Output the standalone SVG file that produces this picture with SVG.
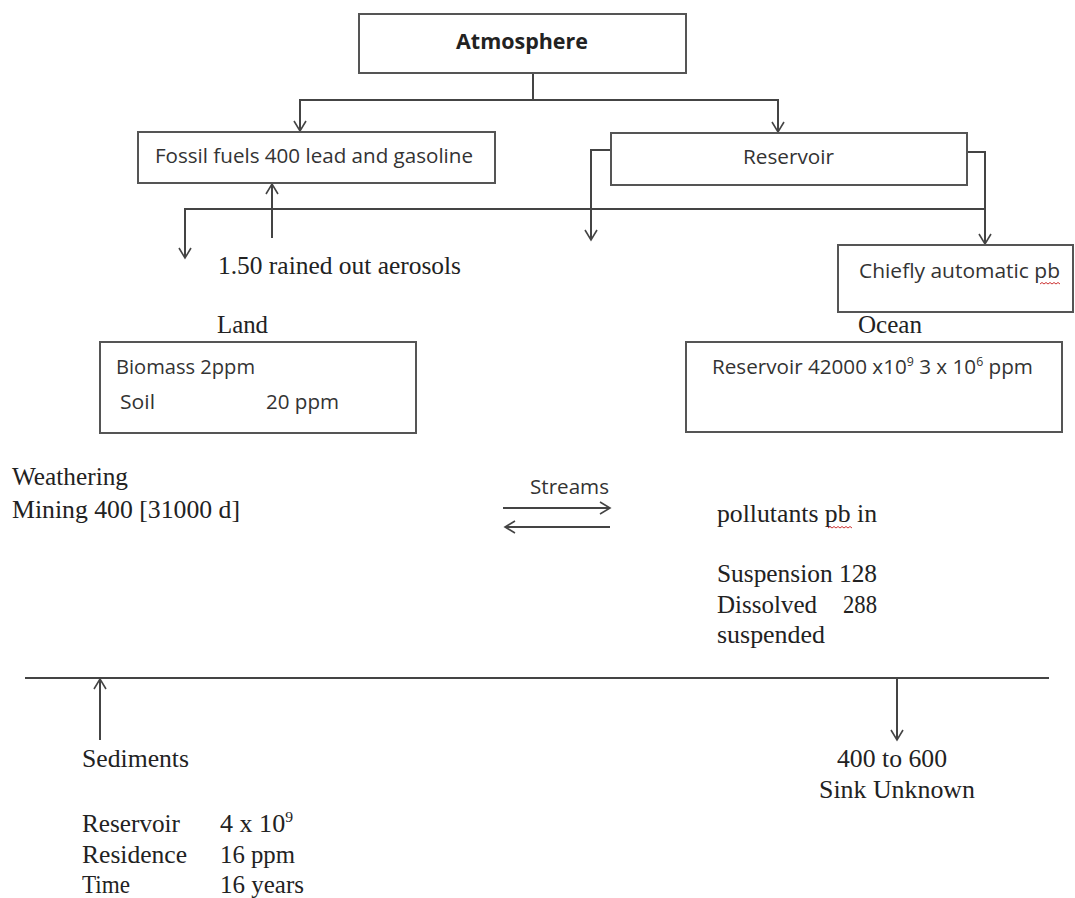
<svg xmlns="http://www.w3.org/2000/svg" width="1075" height="898" viewBox="0 0 1075 898">
<style>
.box{fill:#fff;stroke:#555;stroke-width:2}
.ln{fill:none;stroke:#444;stroke-width:2}
.cal{font-family:"Open Sans","Liberation Sans",sans-serif;font-size:20px;fill:#333}
.tms{font-family:"Liberation Serif","DejaVu Serif",serif;font-size:25px;fill:#222}
.b{font-weight:bold;font-size:22px;fill:#222}
.sq{fill:none;stroke:#c33;stroke-width:1}
</style>
<defs>
<marker id="ah" viewBox="-12 -8 14 16" refX="0" refY="0" markerWidth="14" markerHeight="16" markerUnits="userSpaceOnUse" orient="auto">
<path d="M-10,-6 L0,0 L-10,6" fill="none" stroke="#444" stroke-width="1.6"/>
</marker>
</defs>
<rect width="1075" height="898" fill="#fff"/>

<g id="connectors">
<path class="ln" d="M533,73 V100"/>
<path class="ln" d="M533,100 H300 V131" marker-end="url(#ah)"/>
<path class="ln" d="M533,100 H778 V132" marker-end="url(#ah)"/>
<path class="ln" d="M611,150 H591 V240" marker-end="url(#ah)"/>
<path class="ln" d="M967,152 H985 V244" marker-end="url(#ah)"/>
<path class="ln" d="M985,209 H185 V258" marker-end="url(#ah)"/>
<path class="ln" d="M272,238 V184" marker-end="url(#ah)"/>
<path class="ln" d="M503,508 H610" marker-end="url(#ah)"/>
<path class="ln" d="M610,527 H505" marker-end="url(#ah)"/>
<path class="ln" d="M25,678 H1049"/>
<path class="ln" d="M100,740 V679" marker-end="url(#ah)"/>
<path class="ln" d="M897,678 V740" marker-end="url(#ah)"/>
</g>

<g id="atmosphere">
<rect class="box" x="359" y="14" width="327" height="59"/>
<text class="cal b" x="456" y="49" textLength="132" lengthAdjust="spacingAndGlyphs">Atmosphere</text>
</g>

<g id="fossil-fuels">
<rect class="box" x="138" y="132" width="357" height="51"/>
<text class="cal" x="155" y="163" textLength="318" lengthAdjust="spacingAndGlyphs">Fossil fuels 400 lead and gasoline</text>
</g>

<g id="reservoir">
<rect class="box" x="611" y="133" width="356" height="52"/>
<text class="cal" x="743" y="164" textLength="91" lengthAdjust="spacingAndGlyphs">Reservoir</text>
</g>

<g id="rained-out">
<text class="tms" x="218" y="274" textLength="243" lengthAdjust="spacingAndGlyphs">1.50 rained out aerosols</text>
</g>

<g id="chiefly">
<rect class="box" x="838" y="245" width="235" height="67"/>
<text class="cal" x="859" y="278" textLength="201" lengthAdjust="spacingAndGlyphs">Chiefly automatic pb</text>
<path class="sq" d="M1040,284 l2,-1.5 l2,1.5 l2,-1.5 l2,1.5 l2,-1.5 l2,1.5 l2,-1.5 l2,1.5 l2,-1.5 l2,1.5"/>
</g>

<g id="land">
<text class="tms" x="217" y="333" textLength="51" lengthAdjust="spacingAndGlyphs">Land</text>
<rect class="box" x="100" y="342" width="316" height="91"/>
<text class="cal" x="116" y="374" textLength="139" lengthAdjust="spacingAndGlyphs">Biomass 2ppm</text>
<text class="cal" x="120" y="409" textLength="35" lengthAdjust="spacingAndGlyphs">Soil</text>
<text class="cal" x="266" y="409" textLength="73" lengthAdjust="spacingAndGlyphs">20 ppm</text>
</g>

<g id="ocean">
<text class="tms" x="858" y="333" textLength="64" lengthAdjust="spacingAndGlyphs">Ocean</text>
<rect class="box" x="686" y="342" width="376" height="90"/>
<text class="cal" x="712" y="374" textLength="321" lengthAdjust="spacingAndGlyphs">Reservoir 42000 x10<tspan dy="-8" font-size="12">9</tspan><tspan dy="8"> 3 x 10</tspan><tspan dy="-8" font-size="12">6</tspan><tspan dy="8"> ppm</tspan></text>
</g>

<g id="weathering">
<text class="tms" x="12" y="485" textLength="116" lengthAdjust="spacingAndGlyphs">Weathering</text>
<text class="tms" x="12" y="518" textLength="228" lengthAdjust="spacingAndGlyphs">Mining 400 [31000 d]</text>
</g>

<g id="streams">
<text class="cal" x="530" y="494" textLength="79" lengthAdjust="spacingAndGlyphs">Streams</text>
</g>

<g id="pollutants">
<text class="tms" x="717" y="522" textLength="160" lengthAdjust="spacingAndGlyphs">pollutants pb in</text>
<path class="sq" d="M828,528 l2,-1.5 l2,1.5 l2,-1.5 l2,1.5 l2,-1.5 l2,1.5 l2,-1.5 l2,1.5 l2,-1.5 l2,1.5 l2,-1.5 l2,1.5"/>
<text class="tms" x="717" y="582" textLength="160" lengthAdjust="spacingAndGlyphs">Suspension 128</text>
<text class="tms" x="717" y="613" textLength="100" lengthAdjust="spacingAndGlyphs">Dissolved</text>
<text class="tms" x="843" y="613" textLength="34" lengthAdjust="spacingAndGlyphs">288</text>
<text class="tms" x="717" y="643" textLength="108" lengthAdjust="spacingAndGlyphs">suspended</text>
</g>

<g id="sediments">
<text class="tms" x="82" y="767" textLength="107" lengthAdjust="spacingAndGlyphs">Sediments</text>
<text class="tms" x="82" y="832" textLength="98" lengthAdjust="spacingAndGlyphs">Reservoir</text>
<text class="tms" x="82" y="863" textLength="105" lengthAdjust="spacingAndGlyphs">Residence</text>
<text class="tms" x="82" y="893" textLength="48" lengthAdjust="spacingAndGlyphs">Time</text>
<text class="tms" x="220" y="832" textLength="73" lengthAdjust="spacingAndGlyphs">4 x 10<tspan dy="-10" font-size="15">9</tspan></text>
<text class="tms" x="220" y="863" textLength="75" lengthAdjust="spacingAndGlyphs">16 ppm</text>
<text class="tms" x="220" y="893" textLength="84" lengthAdjust="spacingAndGlyphs">16 years</text>
</g>

<g id="sink">
<text class="tms" x="837" y="767" textLength="110" lengthAdjust="spacingAndGlyphs">400 to 600</text>
<text class="tms" x="819" y="798" textLength="156" lengthAdjust="spacingAndGlyphs">Sink Unknown</text>
</g>
</svg>
